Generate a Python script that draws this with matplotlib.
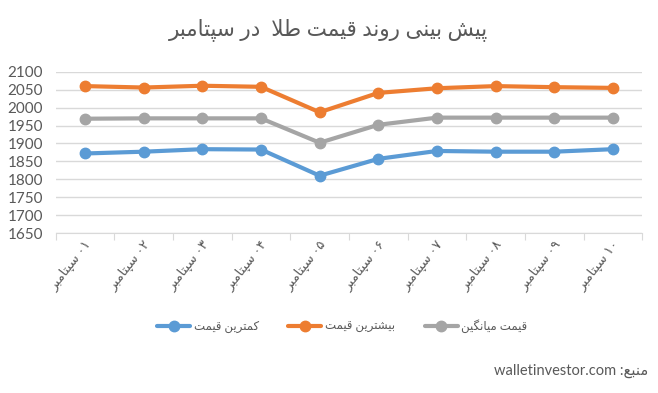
import re
import numpy as np
import matplotlib
matplotlib.use("Agg")
import matplotlib.pyplot as plt
import matplotlib.transforms as mtransforms

# --- data ---
days = ['۰۱', '۰۲', '۰۳', '۰۴', '۰۵', '۰۶', '۰۷', '۰۸', '۰۹', '۱۰']
month = 'سپتامبر'
min_price = [1872, 1877, 1884, 1883, 1810, 1857, 1879, 1877, 1877, 1884]
max_price = [2060, 2056, 2061, 2058, 1987, 2041, 2054, 2060, 2057, 2055]
avg_price = [1969, 1970, 1970, 1970, 1902, 1952, 1972, 1972, 1972, 1972]
series_names = ['کمترین قیمت', 'بیشترین قیمت', 'قیمت میانگین']
title = 'پیش بینی روند قیمت طلا  در سپتامبر'
source_label = 'منبع'
source_site = 'walletinvestor.com'

# matplotlib has no arabic shaping, so do it by hand with presentation forms
FORMS = {
    'ا': ('\uFE8D', '\uFE8E', None, None),
    'ب': ('\uFE8F', '\uFE90', '\uFE91', '\uFE92'),
    'پ': ('\uFB56', '\uFB57', '\uFB58', '\uFB59'),
    'ت': ('\uFE95', '\uFE96', '\uFE97', '\uFE98'),
    'د': ('\uFEA9', '\uFEAA', None, None),
    'ر': ('\uFEAD', '\uFEAE', None, None),
    'س': ('\uFEB1', '\uFEB2', '\uFEB3', '\uFEB4'),
    'ش': ('\uFEB5', '\uFEB6', '\uFEB7', '\uFEB8'),
    'ط': ('\uFEC1', '\uFEC2', '\uFEC3', '\uFEC4'),
    'ع': ('\uFEC9', '\uFECA', '\uFECB', '\uFECC'),
    'ق': ('\uFED5', '\uFED6', '\uFED7', '\uFED8'),
    'ک': ('\uFB8E', '\uFB8F', '\uFB90', '\uFB91'),
    'گ': ('\uFB92', '\uFB93', '\uFB94', '\uFB95'),
    'ل': ('\uFEDD', '\uFEDE', '\uFEDF', '\uFEE0'),
    'م': ('\uFEE1', '\uFEE2', '\uFEE3', '\uFEE4'),
    'ن': ('\uFEE5', '\uFEE6', '\uFEE7', '\uFEE8'),
    'و': ('\uFEED', '\uFEEE', None, None),
    'ی': ('\uFBFC', '\uFBFD', '\uFBFE', '\uFBFF'),
}


def shape(word):
    res = []
    n = len(word)
    for i, c in enumerate(word):
        if c not in FORMS:
            res.append(c)
            continue
        prev = word[i - 1] if i > 0 else None
        nxt = word[i + 1] if i < n - 1 else None
        jp = prev in FORMS and FORMS[prev][2] is not None
        jn = FORMS[c][2] is not None and nxt in FORMS
        f = FORMS[c]
        if jp and jn:
            res.append(f[3])
        elif jp:
            res.append(f[1])
        elif jn:
            res.append(f[2])
        else:
            res.append(f[0])
    s = ''.join(res)
    s = s.replace('\uFEDF\uFE8E', '\uFEFB').replace('\uFEE0\uFE8E', '\uFEFC')
    return s


def rtl(text):
    s = shape(text)
    tokens = re.findall(r'[0-9۰-۹]+|[^0-9۰-۹]+', s)
    out = []
    for t in reversed(tokens):
        if re.match(r'[0-9۰-۹]', t):
            out.append(t)
        else:
            out.append(t[::-1])
    return ''.join(out)


FAM = ['Lato', 'DejaVu Sans']
TXT = '#595959'
GRID = '#d9d9d9'

fig = plt.figure(figsize=(6.58, 3.93), dpi=100)
ax = fig.add_axes([0.0847, 0.407, 0.8913, 0.4104])

x = np.arange(len(days))
colors = ['#5B9BD5', '#ED7D31', '#A5A5A5']
for vals, name, col in zip([min_price, max_price, avg_price], series_names, colors):
    ax.plot(x, vals, color=col, lw=3, marker='o', ms=7.5, label=rtl(name),
            solid_capstyle='round', zorder=3)

ax.set_xlim(-0.5, len(days) - 0.5)
ax.set_ylim(1650, 2100)
ax.set_yticks(np.arange(1650, 2101, 50))
ax.grid(axis='y', color=GRID, lw=1)
ax.set_axisbelow(True)
for sp in ['left', 'right', 'top']:
    ax.spines[sp].set_visible(False)
ax.spines['bottom'].set_color(GRID)
ax.tick_params(axis='y', length=0, pad=9, labelsize=11, labelcolor=TXT)
for lab in ax.get_yticklabels():
    lab.set_family(FAM)

# category ticks sit between categories, labels at centres
ax.set_xticks(np.arange(-0.5, len(days)), minor=False)
ax.set_xticklabels([])
ax.tick_params(axis='x', which='major', length=5, color=GRID, direction='out')
ax.set_xticks(x, minor=True)
ax.set_xticklabels([rtl(d + ' ' + month) for d in days], minor=True,
                   rotation=52, ha='right', va='top', rotation_mode='anchor',
                   fontsize=9.5, color=TXT, family=FAM)
ax.tick_params(axis='x', which='minor', length=0, pad=4)
off = mtransforms.ScaledTranslation(-1 / 100, 0, fig.dpi_scale_trans)
for lab in ax.get_xticklabels(minor=True):
    lab.set_transform(lab.get_transform() + off)

fig.text(0.5, 0.925, rtl(title), ha='center', va='center', fontsize=15.5,
         color=TXT, family=FAM)

leg = fig.legend(loc='center', bbox_to_anchor=(0.52, 0.17), ncol=3, frameon=False,
                 prop={'family': FAM, 'size': 8.5}, handlelength=2.8,
                 columnspacing=2.5, handletextpad=0.3)
for t in leg.get_texts():
    t.set_color(TXT)

fig.text(0.985, 0.056, source_site + ' :' + rtl(source_label), ha='right',
         va='center', fontsize=10.5, color=TXT, family=FAM)

fig.savefig('out.png', dpi=100)
